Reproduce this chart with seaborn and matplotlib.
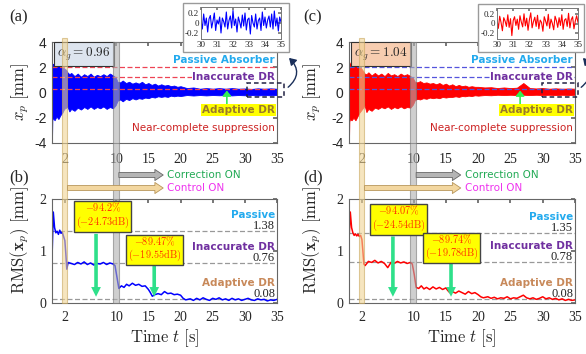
import matplotlib
matplotlib.use("Agg")
import matplotlib.pyplot as plt
import matplotlib.transforms as mtransforms
from matplotlib.patches import Rectangle, FancyArrowPatch
import numpy as np
import seaborn as sns

# =========================================
# DATA
# =========================================
# envelope of the dense displacement signal x_p(t)
t_env = [0, 0.05, 0.15, 0.4, 0.7, 1.0, 1.3, 1.6, 1.9, 2.2,
         2.4, 2.7, 3.0, 3.5, 4.0, 4.5, 5.0, 5.5, 6.0, 6.5,
         7.0, 7.5, 8.0, 8.5, 9.0, 9.5, 9.9, 10.2, 10.6, 11.0,
         11.5, 12.0, 12.5, 13.0, 13.5, 14.0, 14.5, 15.0, 15.5, 16.0,
         16.5, 17.0, 17.5, 18.0, 18.5, 19.0, 19.5, 20.0, 21.0, 22.0,
         23.0, 24.0, 25.0, 26.0, 27.0, 28.0, 29.0, 30.0, 31.0, 32.0,
         33.0, 34.0, 35.0]

upper_a = [0.0, 2.30, 2.20, 2.35, 2.10, 2.30, 2.00, 2.10, 1.90, 1.80,
           1.60, 1.45, 1.55, 1.30, 1.50, 1.25, 1.45, 1.30, 1.50, 1.25,
           1.40, 1.30, 1.45, 1.30, 1.50, 1.35, 1.20, 0.85, 0.80, 0.95,
           0.75, 0.85, 0.70, 0.80, 0.70, 0.85, 0.65, 0.75, 0.60, 0.70,
           0.55, 0.65, 0.55, 0.60, 0.50, 0.55, 0.45, 0.50, 0.35, 0.40,
           0.30, 0.35, 0.30, 0.35, 0.30, 0.35, 0.30, 0.32, 0.28, 0.33,
           0.30, 0.33, 0.30]
lower_a = [-3.80, -2.20, -2.00, -2.20, -1.90, -2.10, -1.80, -1.60, -1.30, -1.20,
           -1.10, -1.50, -1.30, -1.45, -1.20, -1.35, -1.15, -1.30, -1.10, -1.30,
           -1.15, -1.25, -1.10, -1.30, -1.15, -1.25, -1.00, -0.65, -0.55, -0.70,
           -0.50, -0.60, -0.45, -0.55, -0.45, -0.50, -0.40, -0.45, -0.35, -0.40,
           -0.30, -0.35, -0.30, -0.35, -0.25, -0.30, -0.25, -0.28, -0.20, -0.24,
           -0.20, -0.23, -0.20, -0.22, -0.20, -0.23, -0.20, -0.22, -0.20, -0.23,
           -0.20, -0.22, -0.20]

upper_c = [0.0, 2.40, 2.20, 2.30, 2.00, 2.25, 2.00, 2.10, 1.90, 1.70,
           1.50, 1.45, 1.60, 1.35, 1.55, 1.35, 1.50, 1.30, 1.55, 1.35,
           1.45, 1.30, 1.50, 1.35, 1.45, 1.30, 1.15, 0.85, 0.80, 0.90,
           0.75, 0.80, 0.70, 0.75, 0.65, 0.75, 0.60, 0.70, 0.55, 0.65,
           0.50, 0.60, 0.50, 0.55, 0.45, 0.50, 0.45, 0.45, 0.40, 0.42,
           0.35, 0.40, 0.35, 0.38, 0.75, 0.35, 0.32, 0.35, 0.30, 0.33,
           0.30, 0.32, 0.30]
lower_c = [-3.80, -2.30, -2.10, -2.20, -2.00, -2.20, -1.90, -1.60, -1.40, -1.20,
           -1.00, -1.55, -1.30, -1.45, -1.20, -1.30, -1.15, -1.25, -1.10, -1.30,
           -1.15, -1.25, -1.10, -1.25, -1.15, -1.20, -0.95, -0.60, -0.50, -0.55,
           -0.45, -0.50, -0.40, -0.45, -0.40, -0.45, -0.35, -0.40, -0.35, -0.35,
           -0.30, -0.35, -0.28, -0.30, -0.25, -0.28, -0.22, -0.25, -0.20, -0.22,
           -0.18, -0.20, -0.18, -0.20, -0.18, -0.20, -0.18, -0.20, -0.18, -0.20,
           -0.18, -0.20, -0.18]

# running RMS of x_p
t_rms = [0, 0.2, 0.4, 0.6, 0.8, 1.0, 1.2, 1.4, 1.6, 1.8,
         2.0, 2.15, 2.3, 2.5, 3.0, 3.5, 4.0, 4.5, 5.0, 5.5,
         6.0, 6.5, 7.0, 7.5, 8.0, 8.5, 9.0, 9.5, 9.8, 10.1,
         10.4, 10.8, 11.2, 11.6, 12.0, 12.5, 13.0, 13.5, 14.0, 14.5,
         15.0, 15.3, 15.6, 16.0, 16.5, 17.0, 17.5, 18.0, 18.5, 19.0,
         19.5, 20.0, 20.4, 20.8, 21.5, 22.0, 22.5, 23.0, 23.5, 24.0,
         24.5, 25.0, 25.5, 26.0, 26.5, 27.0, 27.5, 28.0, 28.5, 29.0,
         29.5, 30.0, 30.5, 31.0, 31.5, 32.0, 32.5, 33.0, 33.5, 34.0,
         34.5, 35.0]
rms_a = [0.85, 1.75, 1.45, 1.35, 1.38, 1.32, 1.40, 1.34, 1.36, 1.28,
         1.20, 0.95, 0.65, 0.78, 0.76, 0.74, 0.78, 0.75, 0.79, 0.74,
         0.77, 0.73, 0.76, 0.75, 0.78, 0.74, 0.77, 0.75, 0.72, 0.50,
         0.28, 0.33, 0.30, 0.36, 0.33, 0.38, 0.34, 0.36, 0.32, 0.33,
         0.26, 0.20, 0.13, 0.16, 0.18, 0.16, 0.22, 0.18, 0.19, 0.16,
         0.17, 0.15, 0.09, 0.06, 0.08, 0.05, 0.09, 0.06, 0.10, 0.07,
         0.05, 0.09, 0.07, 0.10, 0.06, 0.08, 0.05, 0.09, 0.06, 0.08,
         0.05, 0.07, 0.09, 0.06, 0.05, 0.08, 0.06, 0.07, 0.04, 0.06,
         0.05, 0.07]
rms_c = [1.20, 1.75, 1.45, 1.35, 1.30, 1.33, 1.29, 1.32, 1.28, 1.30,
         1.22, 1.00, 0.75, 0.72, 0.80, 0.78, 0.82, 0.77, 0.80, 0.76,
         0.68, 0.78, 0.76, 0.80, 0.77, 0.79, 0.76, 0.78, 0.75, 0.55,
         0.30, 0.28, 0.33, 0.27, 0.30, 0.26, 0.31, 0.27, 0.30, 0.26,
         0.29, 0.24, 0.20, 0.22, 0.19, 0.23, 0.20, 0.17, 0.22, 0.18,
         0.20, 0.16, 0.12, 0.10, 0.12, 0.09, 0.11, 0.08, 0.10, 0.09,
         0.12, 0.08, 0.10, 0.09, 0.12, 0.15, 0.10, 0.08, 0.10, 0.07,
         0.09, 0.12, 0.08, 0.10, 0.07, 0.09, 0.06, 0.08, 0.05, 0.07,
         0.05, 0.06]

# zoomed-in signal between 30 s and 35 s
inset_a = [0.05, -0.12, 0.18, -0.05, 0.10, -0.18, 0.08, 0.15, -0.10, 0.04,
           0.20, -0.15, 0.06, -0.02, 0.12, -0.20, 0.10, 0.03, -0.08, 0.22,
           -0.12, 0.05, 0.14, -0.10, 0.25, -0.05, 0.08, -0.18, 0.12, 0.02,
           -0.10, 0.16, -0.06, 0.20, -0.14, 0.07, 0.10, -0.22, 0.15, 0.00,
           -0.08, 0.18, -0.12, 0.05, 0.10, -0.15, 0.22, -0.05, 0.12, -0.10,
           0.06, 0.14, -0.08, 0.18, -0.12, 0.24, -0.06, 0.10, -0.16, 0.12, 0.02]
inset_c = [0.08, -0.10, 0.15, 0.02, -0.15, 0.12, 0.05, -0.06, 0.18, -0.08,
           0.10, -0.25, 0.06, 0.14, -0.04, 0.09, -0.12, 0.16, 0.03, -0.07,
           0.20, -0.05, 0.11, -0.14, 0.08, 0.22, -0.09, 0.04, 0.13, -0.06,
           0.17, -0.11, 0.07, 0.02, -0.16, 0.14, 0.05, -0.05, 0.19, -0.10,
           0.09, 0.00, -0.13, 0.15, 0.06, -0.08, 0.12, -0.04, 0.18, -0.12,
           0.07, 0.10, -0.06, 0.21, -0.09, 0.08, 0.14, -0.11, 0.05, 0.16, 0.02]
t_inset = np.linspace(30, 35, len(inset_a))

# reference levels
peak_levels = [2.0, 1.2, 0.3]          # passive, inaccurate DR, adaptive DR in x_p
rms_levels_a = [1.38, 0.76, 0.08]
rms_levels_c = [1.35, 0.78, 0.08]
pct_a = [r"$-94.2\%$" + "\n" + r"$(-24.73\mathrm{dB})$",
         r"$-89.47\%$" + "\n" + r"$(-19.55\mathrm{dB})$"]
pct_c = [r"$-94.07\%$" + "\n" + r"$(-24.54\mathrm{dB})$",
         r"$-89.74\%$" + "\n" + r"$(-19.78\mathrm{dB})$"]
alpha_a = r"$\alpha_g = 0.96$"
alpha_c = r"$\alpha_g = 1.04$"

x_ticks = [2, 10, 15, 20, 25, 30, 35]
control_on = (1.5, 2.4)
correction_on = (9.5, 10.4)

# =========================================
# STYLE
# =========================================
sns.set_theme(style="white")
plt.rcParams["font.family"] = ["Liberation Serif", "DejaVu Serif"]
plt.rcParams["mathtext.fontset"] = "cm"
SANS = "DejaVu Sans"

W, H = 586, 354
fig = plt.figure(figsize=(W / 100, H / 100), dpi=100)


def fx(px):
    return px / W


def fy(py):
    return 1 - py / H


def style_axes(ax):
    for s in ax.spines.values():
        s.set_color("#666666")
        s.set_linewidth(0.8)
    ax.tick_params(direction="in", top=True, right=True, length=3,
                   color="#666666", labelsize=10, pad=4)


def draw_column(left, width, upper, lower, rms, inset, line_col, dash_col,
                alpha_txt, alpha_bg, levels, pcts, ann_pos, arr_pos,
                box_x, inset_rect, outer_rect, curl, tags):
    ax_top = fig.add_axes([left, fy(143), width, fy(42) - fy(143)])
    ax_bot = fig.add_axes([left, fy(303), width, fy(199) - fy(303)])

    # ---------- top: time history ----------
    ax_top.fill_between(t_env, lower, upper, color=line_col, lw=0.6,
                        edgecolor=line_col)
    for lv in peak_levels:
        ax_top.axhline(lv, color=dash_col, ls=(0, (4, 2)), lw=0.9)
    ax_top.set_xlim(0, 35)
    ax_top.set_ylim(-4, 4)
    ax_top.set_xticks(x_ticks)
    ax_top.set_yticks([-4, -2, 0, 2, 4])
    ax_top.set_yticklabels(["-4", "-2", "0", "2", "4"], family="Liberation Sans")
    style_axes(ax_top)
    ax_top.tick_params(axis="x", pad=7)

    ax_top.text(34.7, 2.55, "Passive Absorber", ha="right", va="center",
                color="#22aaee", fontsize=7.5, weight="bold", family=SANS)
    ax_top.text(34.7, 1.2, "Inaccurate DR", ha="right", va="center",
                color="#7030a0", fontsize=7.5, weight="bold", family=SANS,
                bbox=dict(boxstyle="square,pad=0.05", fc="white", ec="none"))
    ax_top.text(34.7, -1.4, "Adaptive DR", ha="right", va="center",
                color="#9a7a2a", fontsize=7.5, weight="bold", family=SANS,
                bbox=dict(boxstyle="square,pad=0.1", fc="#ffff00", ec="none"))
    ax_top.text(34.7, -2.8, "Near-complete suppression", ha="right", va="center",
                color="#cc2222", fontsize=7.5, family=SANS)
    ax_top.add_patch(FancyArrowPatch((arr_pos[0], -1.0), (arr_pos[0], 0.15),
                                     arrowstyle="-|>,head_width=2.5,head_length=3",
                                     color="#33ee55", lw=1.2, shrinkA=0, shrinkB=0))
    ax_top.text(0.022, 0.965, alpha_txt, transform=ax_top.transAxes,
                ha="left", va="top", fontsize=9.5, zorder=8,
                bbox=dict(boxstyle="square,pad=0.25", fc=alpha_bg, ec="#333333", lw=0.8))
    ax_top.add_patch(Rectangle((box_x[0], -0.36), box_x[1] - box_x[0], 1.1,
                               fill=False, ls=(0, (3, 2)), ec="#222244", lw=1.1,
                               clip_on=False, zorder=5))

    # ---------- bottom: RMS ----------
    sns.lineplot(x=t_rms, y=rms, ax=ax_bot, color=line_col, lw=1.1)
    for lv in levels:
        ax_bot.axhline(lv, color="#999999", ls=(0, (4, 2)), lw=0.9, zorder=1)
    ax_bot.set_xlim(0, 35)
    ax_bot.set_ylim(0, 2)
    ax_bot.set_xticks(x_ticks)
    ax_bot.set_yticks([0, 1, 2])
    ax_bot.set_xlabel(r"$\mathrm{Time}\ t\ [\mathrm{s}]$", fontsize=12, labelpad=2)
    ax_bot.set_ylabel("")
    style_axes(ax_bot)
    ax_bot.tick_params(axis="x", pad=6)

    names = [("Passive", "#22aaee"), ("Inaccurate DR", "#7030a0"),
             ("Adaptive DR", "#c8895a")]
    for (name, col), lv in zip(names, levels):
        ax_bot.text(34.7, lv + 0.31, name, ha="right", va="center", color=col,
                    fontsize=7.5, weight="bold", family=SANS)
        ax_bot.text(34.7, lv + 0.1, f"{lv:.2f}", ha="right", va="center",
                    color="#222222", fontsize=9)
    for txt, (xa, ya), (xr, y0) in zip(pcts, ann_pos, arr_pos[1:]):
        ax_bot.text(xa, ya, txt, ha="center", va="center", color="#ff3300",
                    fontsize=7.4, linespacing=1.05, zorder=8,
                    bbox=dict(boxstyle="square,pad=0.18", fc="#ffff00",
                              ec="#444444", lw=1))
        ax_bot.add_patch(FancyArrowPatch(
            (xr, y0), (xr, 0.12),
            arrowstyle="simple,tail_width=2.6,head_width=7,head_length=7",
            color="#2ee08a", lw=0, shrinkA=0, shrinkB=0, zorder=4))

    # ---------- event bands spanning both panels ----------
    blend = mtransforms.blended_transform_factory(ax_bot.transData, fig.transFigure)
    ax_bot.add_patch(Rectangle((control_on[0], fy(303)), control_on[1] - control_on[0],
                               fy(38) - fy(303), transform=blend, clip_on=False,
                               fc="#f0d595", ec="#c9a860", lw=0.8, alpha=0.6, zorder=6))
    ax_bot.add_patch(Rectangle((correction_on[0], fy(303)), correction_on[1] - correction_on[0],
                               fy(42) - fy(303), transform=blend, clip_on=False,
                               fc="#b0b0b0", ec="#7a7a7a", lw=0.8, alpha=0.6, zorder=6))
    fig.add_artist(FancyArrowPatch(
        (correction_on[1], fy(175)), (17.3, fy(175)), transform=blend,
        arrowstyle="simple,tail_width=3.5,head_width=8,head_length=6",
        fc="#b5b5b5", ec="#666666", lw=0.6, shrinkA=0, shrinkB=0))
    fig.add_artist(FancyArrowPatch(
        (control_on[1], fy(188)), (17.3, fy(188)), transform=blend,
        arrowstyle="simple,tail_width=3.5,head_width=8,head_length=6",
        fc="#f3d7a0", ec="#b8965a", lw=0.6, shrinkA=0, shrinkB=0))
    ax_bot.text(17.9, fy(175), "Correction ON", transform=blend, ha="left",
                va="center", color="#22aa55", fontsize=7.5, family=SANS)
    ax_bot.text(17.9, fy(188), "Control ON", transform=blend, ha="left",
                va="center", color="#ee33ee", fontsize=7.5, family=SANS)

    # ---------- inset ----------
    fig.add_artist(Rectangle((fx(outer_rect[0]), fy(outer_rect[3])),
                             fx(outer_rect[2]) - fx(outer_rect[0]),
                             fy(outer_rect[1]) - fy(outer_rect[3]),
                             transform=fig.transFigure, fc="white",
                             ec="#9a9a9a", lw=1, zorder=3))
    ax_in = fig.add_axes([fx(inset_rect[0]), fy(inset_rect[3]),
                          fx(inset_rect[2]) - fx(inset_rect[0]),
                          fy(inset_rect[1]) - fy(inset_rect[3])])
    ax_in.set_zorder(4)
    sns.lineplot(x=t_inset, y=inset, ax=ax_in, color=line_col, lw=0.8)
    ax_in.set_xlim(30, 35)
    ax_in.set_ylim(-0.32, 0.32)
    ax_in.set_xticks([30, 31, 32, 33, 34, 35])
    ax_in.set_yticks([-0.2, 0, 0.2])
    ax_in.set_yticklabels(["-0.2", "0", "0.2"])
    for s in ax_in.spines.values():
        s.set_color("#777777")
        s.set_linewidth(0.7)
    ax_in.tick_params(direction="in", top=True, right=True, length=2,
                      labelsize=6.5, pad=1.5, color="#777777")
    ax_in.set_xlabel("")
    ax_in.set_ylabel("")

    fig.add_artist(FancyArrowPatch((fx(curl[0]), fy(curl[1])), (fx(curl[2]), fy(curl[3])),
                                   transform=fig.transFigure,
                                   connectionstyle="arc3,rad=0.6",
                                   arrowstyle="-|>,head_width=2.5,head_length=4",
                                   color="#1a2f5a", lw=1.0, zorder=5))

    # ---------- labels ----------
    fig.text(fx(tags[0]), fy(17), tags[1], fontsize=12, ha="center", va="center")
    fig.text(fx(tags[0]), fy(177), tags[2], fontsize=12, ha="center", va="center")
    fig.text(fx(tags[3]), fy(92), r"$x_p\ [\mathrm{mm}]$", fontsize=12,
             rotation=90, ha="center", va="center")
    fig.text(fx(tags[3]), fy(240), r"$\mathrm{RMS}(\mathbf{x}_p)\ [\mathrm{mm}]$",
             fontsize=12, rotation=90, ha="center", va="center")


draw_column(fx(52), fx(277) - fx(52), upper_a, lower_a, rms_a, inset_a,
            "#0000ff", "#ee4455", alpha_a, "#dde4ee", rms_levels_a, pct_a,
            ann_pos=[(7.9, 1.69), (15.9, 1.04)],
            arr_pos=[27.2, (6.85, 1.33), (15.9, 0.76)],
            box_x=(30.4, 36.1),
            inset_rect=(201, 7, 281, 39), outer_rect=(183, 3, 289, 52),
            curl=(286, 89, 287, 56), tags=(19, "(a)", "(b)", 20))
draw_column(fx(349), fx(575) - fx(349), upper_c, lower_c, rms_c, inset_c,
            "#ff0000", "#5555dd", alpha_c, "#f7cdb0", rms_levels_c, pct_c,
            ann_pos=[(7.7, 1.63), (15.9, 1.08)],
            arr_pos=[26.5, (6.8, 1.28), (15.8, 0.79)],
            box_x=(29.9, 35.4),
            inset_rect=(497, 8, 578, 39), outer_rect=(478, 4, 584, 52),
            curl=(579, 89, 581, 56), tags=(313, "(c)", "(d)", 312))

fig.savefig("out.png", dpi=100)
